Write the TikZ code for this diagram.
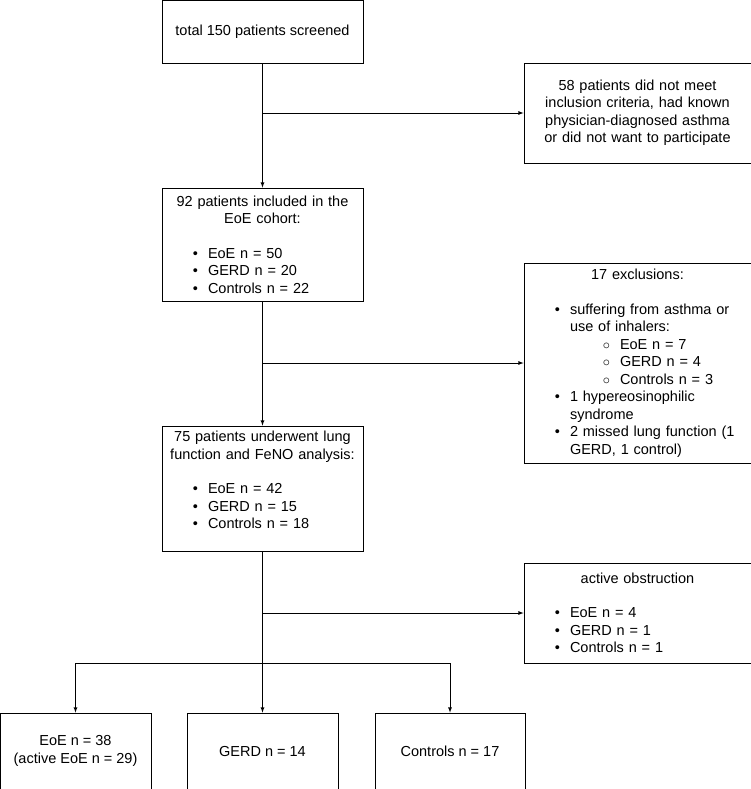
\documentclass[tikz,border=0pt]{standalone}
\usepackage{fontspec}
\setmainfont{Liberation Sans}
\usepackage{enumitem}
\usetikzlibrary{positioning}
\setlist[itemize,1]{label=\textbullet,leftmargin=42pt,labelsep=10pt,itemsep=0pt,topsep=17pt,parsep=0pt,partopsep=0pt}
\setlist[itemize,2]{label=$\circ$,leftmargin=50pt,labelsep=10pt,itemsep=0pt,topsep=0pt,parsep=0pt,partopsep=0pt}
\hyphenpenalty=10000
\tikzset{
  box/.style={draw, thick, inner sep=4pt, font=\fontsize{14.5}{17.5}\selectfont, align=center},
  flow/.style={->, thick, >=latex},
}
\begin{document}
\begin{tikzpicture}[x=1pt,y=-1pt]
  \useasboundingbox (0,0) rectangle (751,789);

  % Main column
  \node[box, minimum width=201pt, minimum height=63pt] (screen) at (262.5,31.5) {total 150 patients screened};
  \node[box, text width=193pt, align=left, minimum width=201pt, minimum height=113pt] (cohort) at (262.5,244.5)
    {\centering 92 patients included in the EoE cohort:\par
     \begin{itemize}\item EoE n = 50 \item GERD n = 20 \item Controls n = 22\end{itemize}};
  \node[box, text width=193pt, align=left, minimum width=201pt, minimum height=125pt] (lung) at (262.5,488.5)
    {\centering 75 patients underwent lung function and FeNO analysis:\par
     \begin{itemize}\item EoE n = 42 \item GERD n = 15 \item Controls n = 18\end{itemize}
     \vspace*{16pt}};

  % Exclusion boxes
  \node[box, text width=219pt, minimum width=227pt, minimum height=100pt] (excl1) at (637.5,113)
    {58 patients did not meet\\inclusion criteria, had known\\physician-diagnosed asthma\\or did not want to participate};
  \node[box, text width=219pt, align=left, minimum width=227pt, minimum height=200pt] (excl2) at (637.5,363)
    {\centering 17 exclusions:\par
     \begin{itemize}
       \item suffering from asthma or use of inhalers:
         \begin{itemize}\item EoE n = 7 \item GERD n = 4 \item Controls n = 3\end{itemize}
       \item 1 hypereosinophilic syndrome
       \item 2 missed lung function (1 GERD, 1 control)
     \end{itemize}};
  \node[box, text width=219pt, align=left, minimum width=227pt, minimum height=100pt] (excl3) at (637.5,613)
    {\centering active obstruction\par
     \begin{itemize}\item EoE n = 4 \item GERD n = 1 \item Controls n = 1\end{itemize}};

  % Result boxes
  \node[box, minimum width=151pt, minimum height=76pt] (eoe) at (75.5,751) {EoE n = 38\\(active EoE n = 29)};
  \node[box, minimum width=151pt, minimum height=76pt] (gerd) at (262.5,751) {GERD n = 14};
  \node[box, minimum width=150pt, minimum height=76pt] (ctrl) at (450,751) {Controls n = 17};

  % Connectors
  \coordinate (j1) at (262.5,113);
  \coordinate (j2) at (262.5,363);
  \coordinate (j3) at (262.5,613);
  \coordinate (split) at (262.5,663);
  \draw[flow] (screen) -- (cohort);
  \draw[flow] (j1) -- (excl1.west |- j1);
  \draw[flow] (cohort) -- (lung);
  \draw[flow] (j2) -- (excl2.west |- j2);
  \draw[thick] (lung) -- (split);
  \draw[flow] (j3) -- (excl3.west |- j3);
  \draw[flow] (split) -- (gerd);
  \draw[flow] (split) -| (eoe.north);
  \draw[flow] (split) -| (ctrl.north);
\end{tikzpicture}
\end{document}
